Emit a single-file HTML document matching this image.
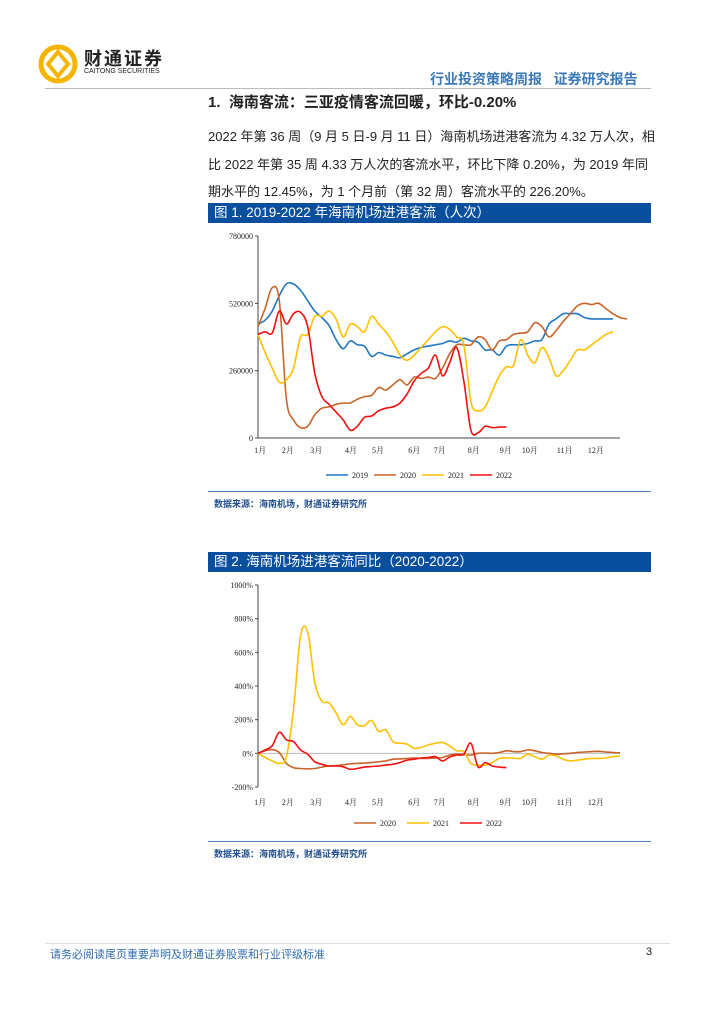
<!DOCTYPE html>
<html><head><meta charset="utf-8">
<style>
body{margin:0;background:#fff;}
#page{position:relative;width:724px;height:1024px;overflow:hidden;font-family:"Liberation Sans","Noto Sans CJK SC",sans-serif;}
.abs{position:absolute;white-space:nowrap;}
.bar{position:absolute;left:208px;width:443px;height:20px;background:#0a4f9e;color:#fff;font-size:13.5px;line-height:20px;padding-left:6px;box-sizing:border-box;}
.src{position:absolute;left:208px;width:443px;border-top:1.5px solid #4f86c6;font-size:9px;font-weight:bold;color:#1f4e8c;padding:5px 0 0 6px;box-sizing:border-box;}
.body{font-size:13px;color:#222;left:208px;}
</style></head><body>
<div id="page">
<svg class="abs" style="left:38px;top:44px" width="40" height="40">
<circle cx="20" cy="20" r="17" fill="none" stroke="#f5b400" stroke-width="5"/>
<path d="M20 8 L30 20 L20 32 L10 20 Z" fill="none" stroke="#f5b400" stroke-width="4"/>
</svg>
<div class="abs" style="left:84px;top:45px;font-size:18px;font-weight:bold;color:#222;letter-spacing:2px">财通证券</div>
<div class="abs" style="left:84px;top:68px;font-size:7px;color:#222">CAITONG SECURITIES</div>
<div class="abs" style="left:430px;top:69px;font-size:14px;font-weight:bold;color:#3a78b8">行业投资策略周报&nbsp;&nbsp;&nbsp;证券研究报告</div>
<div class="abs" style="left:45px;top:88px;width:606px;height:1px;background:#bbb"></div>
<div class="abs" style="left:208px;top:91px;font-size:15px;font-weight:bold;color:#222">1.&nbsp;&nbsp;海南客流：三亚疫情客流回暖，环比-0.20%</div>
<div class="abs body" style="top:126px">2022 年第 36 周（9 月 5 日-9 月 11 日）海南机场进港客流为 4.32 万人次，相</div>
<div class="abs body" style="top:154px">比 2022 年第 35 周 4.33 万人次的客流水平，环比下降 0.20%，为 2019 年同</div>
<div class="abs body" style="top:181px">期水平的 12.45%，为 1 个月前（第 32 周）客流水平的 226.20%。</div>
<div class="bar" style="top:203px">图 1. 2019-2022 年海南机场进港客流（人次）</div>
<div class="src" style="top:491px">数据来源：海南机场，财通证券研究所</div>
<div class="bar" style="top:552px">图 2. 海南机场进港客流同比（2020-2022）</div>
<div class="src" style="top:841px">数据来源：海南机场，财通证券研究所</div>
<div class="abs" style="left:45px;top:943px;width:625px;height:1px;background:#ddd"></div>
<div class="abs" style="left:50px;top:946px;font-size:11px;color:#2f6db0">请务必阅读尾页重要声明及财通证券股票和行业评级标准</div>
<div class="abs" style="left:646px;top:946px;font-size:11px;color:#222">3</div>
<svg id="charts" class="abs" style="left:0;top:0" width="724" height="1024"></svg>
</div>
<script>
const months=["1月","2月","3月","4月","5月","6月","7月","8月","9月","10月","11月","12月"];
const monthWeek=[-0.4,3.5,7.5,12.4,16.2,21.3,24.9,29.7,34.2,37.6,42.5,46.9];
const ticks1=[0,260000,520000,780000];
const ticks2=[-200,0,200,400,600,800,1000];
const s2019=[44,45.5,49,55,59.5,59.5,57,53,49,46.5,43.5,38,34.5,37.5,36,35.5,31.5,33,32,31.5,31,32.5,34,35,35.5,36,36.5,37.5,37,38.5,37.5,37,34,34,32,35.5,36,36,36.5,37.5,38,44,46,48,48,48,46.5,46,46,46,46];
const s2020=[43,50,58,53,15,7,4,4.5,9,11.5,12,13,13.5,13.5,15,16,16.5,19.5,18.5,20.5,22.5,20.5,23.5,23,23.5,23,27,32.5,36,36,36,39,38,34,37.5,38,40,40.5,41,44.5,43,39,41.5,45,48,51,52,51.5,52,50,48,46.5,46];
const s2021=[40,33,27,21.5,22.5,27,39,40,47,47,49,46,39,44,43,41,47,44,41,37,32,30,32,35,38,41,43,42,39,36,14,10.5,12,18,24,27.5,28,38,32,29,35,31,24,26,30,34,34,36,38,40,41];
const s2022=[40,41,40.5,49,44,48,48.5,43,25,16,13,10,7,3,4.5,8,8.5,10.5,11.5,12,13.5,17,22,25,27,32,24,29,35,22,3,2,4.5,4,4.2,4.2];
const y2020=[0,15,22,5,-60,-85,-90,-92,-90,-82,-75,-73,-68,-62,-60,-58,-55,-50,-45,-35,-33,-30,-28,-30,-30,-28,-25,-10,-5,-8,-10,0,2,0,5,15,10,10,20,15,5,0,-5,-3,0,5,8,10,12,8,5,3];
const y2021=[0,-25,-45,-60,-20,260,700,720,420,310,300,240,170,220,170,165,195,130,140,70,60,55,30,35,50,60,65,45,15,10,-60,-70,-70,-55,-30,-28,-28,-30,-5,-20,-35,-10,-15,-35,-45,-40,-35,-30,-30,-28,-20,-15];
const y2022=[0,20,45,125,80,70,20,-5,-50,-65,-75,-75,-80,-95,-90,-82,-78,-75,-70,-65,-55,-40,-35,-28,-25,-20,-45,-22,-10,-5,60,-80,-55,-75,-82,-85];
const NS="http://www.w3.org/2000/svg";
const svg=document.getElementById('charts');
function mk(t,a,txt){const e=document.createElementNS(NS,t);for(const k in a)e.setAttribute(k,a[k]);if(txt!==undefined)e.textContent=txt;svg.appendChild(e);return e;}
function smooth(pts){let d="M"+pts[0][0]+","+pts[0][1];for(let i=0;i<pts.length-1;i++){const p0=pts[i-1]||pts[i],p1=pts[i],p2=pts[i+1],p3=pts[i+2]||p2;const c1=[p1[0]+(p2[0]-p0[0])/6,p1[1]+(p2[1]-p0[1])/6],c2=[p2[0]-(p3[0]-p1[0])/6,p2[1]-(p3[1]-p1[1])/6];d+=" C"+c1[0].toFixed(1)+","+c1[1].toFixed(1)+" "+c2[0].toFixed(1)+","+c2[1].toFixed(1)+" "+p2[0].toFixed(1)+","+p2[1].toFixed(1);}return d;}
function chart(cfg){
 const X=w=>cfg.x0+w*(cfg.x1-cfg.x0)/51;
 const Y=v=>cfg.y0-(v-cfg.vmin)*(cfg.y0-cfg.y1)/(cfg.vmax-cfg.vmin);
 let ax=mk('line',{x1:cfg.x0,x2:cfg.x0,y1:cfg.y1,y2:cfg.y0,stroke:'#444','stroke-width':1});
 
 cfg.ticks.forEach(t=>{
  const tl=mk('text',{x:cfg.x0-5,y:Y(t)+3,'font-size':8,'text-anchor':'end','font-family':'Liberation Serif,serif',fill:'#222'},cfg.fmt(t));
  
  const tk=mk('line',{x1:cfg.x0-3,x2:cfg.x0,y1:Y(t),y2:Y(t),stroke:'#444'});
  
 });
 const base=mk('line',{x1:cfg.x0,x2:cfg.x1,y1:Y(0),y2:Y(0),stroke:cfg.zeroColor,'stroke-width':1});
 
 months.forEach((m,i)=>{
  const ml=mk('text',{x:X(monthWeek[i])+5,y:cfg.y0+(cfg.vmin<0?18:15),'font-size':8,'text-anchor':'middle','font-family':'Liberation Serif,"Noto Serif CJK SC",serif',fill:'#222'},m);
  
 });
 cfg.series.forEach(s=>{
  const p=mk('path',{d:smooth(s.data.map((v,i)=>[X(i),Y(v*cfg.mult)])),fill:'none',stroke:s.color,'stroke-width':1.6});
  
 });
 cfg.series.forEach((s,i)=>{
  const lx=cfg.legX+i*cfg.legStep;
  const l=mk('line',{x1:lx,x2:lx+22,y1:cfg.legY,y2:cfg.legY,stroke:s.color,'stroke-width':1.6});
  
  const t=mk('text',{x:lx+26,y:cfg.legY+3,'font-size':8,'font-family':'Liberation Serif,serif',fill:'#222'},s.name);
  
 });
}
chart({id:'chart1',x0:258,x1:620,y0:438,y1:236,vmin:0,vmax:780000,mult:10000,ticks:ticks1,fmt:t=>String(t),zeroColor:'#444',
 series:[{name:'2019',color:'#1f77c4',data:s2019},{name:'2020',color:'#c8642a',data:s2020},{name:'2021',color:'#ffc000',data:s2021},{name:'2022',color:'#f01010',data:s2022}],
 legX:326,legStep:48,legY:475});
chart({id:'chart2',x0:258,x1:620,y0:787,y1:585,vmin:-200,vmax:1000,mult:1,ticks:ticks2,fmt:t=>t+'%',zeroColor:'#bbb',
 series:[{name:'2020',color:'#c8642a',data:y2020},{name:'2021',color:'#ffc000',data:y2021},{name:'2022',color:'#f01010',data:y2022}],
 legX:354,legStep:53,legY:823});
</script>
</body></html>
